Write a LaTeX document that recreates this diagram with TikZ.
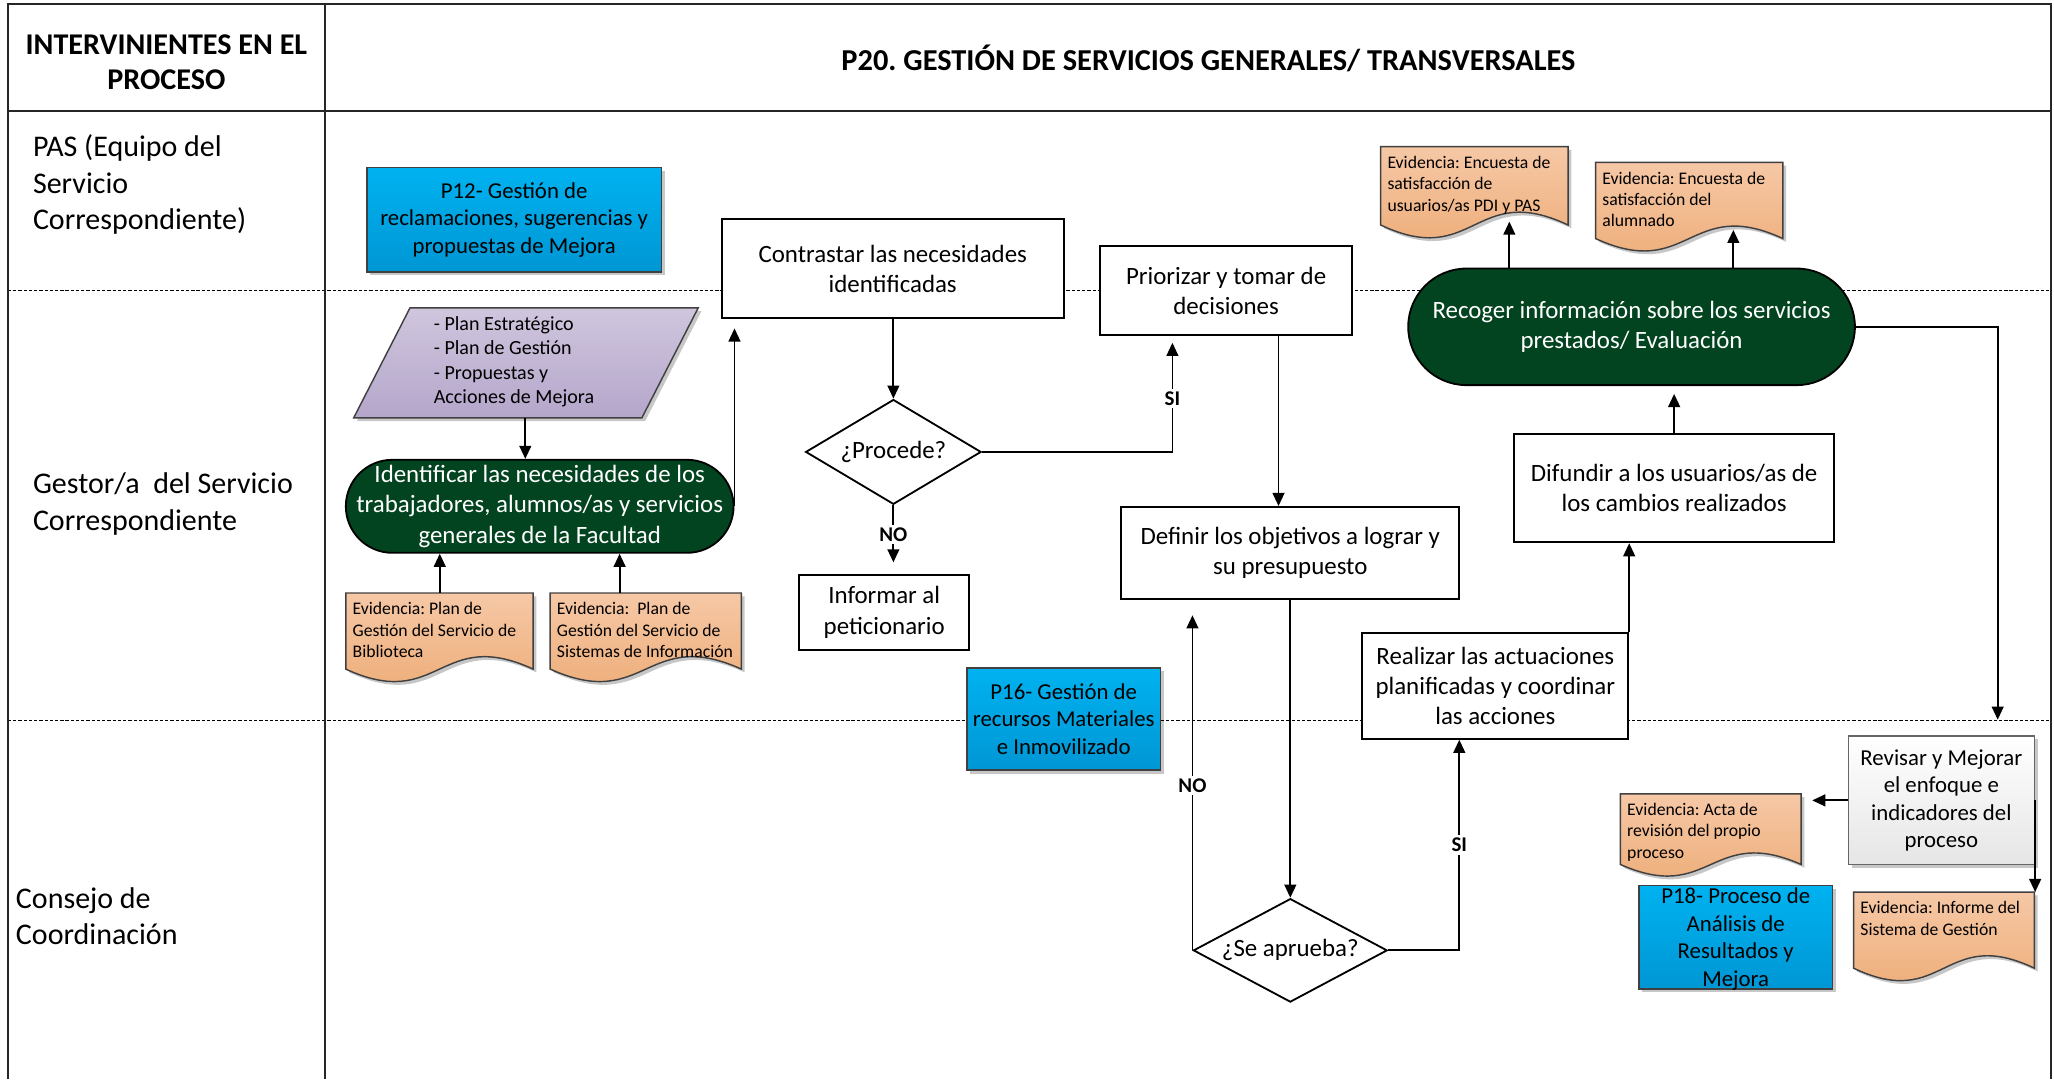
\documentclass[tikz,border=0pt]{standalone}
\usepackage{fontspec}
\setmainfont{Carlito}
\usetikzlibrary{arrows.meta,shapes.geometric,shadows,calc}

\definecolor{bluetop}{RGB}{0,178,240}
\definecolor{bluebot}{RGB}{0,150,212}
\definecolor{lilatop}{RGB}{208,198,222}
\definecolor{lilabot}{RGB}{180,166,202}
\definecolor{orgtop}{RGB}{246,200,166}
\definecolor{orgbot}{RGB}{236,168,112}
\definecolor{dkgreen}{RGB}{3,68,32}
\definecolor{edge}{RGB}{64,64,64}

\newcommand{\fsz}[2]{\fontsize{#1}{#2}\selectfont}

% evidence document: name, left x, top y, width, depth of wave, text
\newcommand{\evdoc}[6]{%
  \draw[docshape] (#2,#3) -- (#2+#4,#3) -- (#2+#4,#3+0.83*#5)
    .. controls (#2+0.5*#4,#3+0.36*#5) and (#2+0.5*#4,#3+1.3*#5) .. (#2,#3+0.83*#5) -- cycle;
  \node[docframe, minimum width=#4, minimum height=0.83*#5, anchor=north west] (#1) at (#2,#3) {};
  \node[doctext, anchor=north west] (#1-txt) at (#2+5,#3+7) {#6};
}

\begin{document}
\frenchspacing
\begin{tikzpicture}[x=1pt,y=-1pt,
  frameline/.style={line width=1.6pt, draw=black!85},
  lane/.style={line width=1pt, dash pattern=on 2.5pt off 1.5pt},
  shad/.style={drop shadow={shadow xshift=2.5pt, shadow yshift=-2.5pt, fill=black, opacity=0.22}},
  box/.style={rectangle, draw=black, line width=1.4pt, fill=white, align=center, inner sep=0pt, font=\fsz{19}{23}},
  bluebox/.style={rectangle, draw=edge, line width=1.2pt, top color=bluetop, bottom color=bluebot, align=center, inner sep=0pt, font=\fsz{17.4}{21}, shad},
  pill/.style={rectangle, draw=black, line width=1.4pt, fill=dkgreen, text=white, align=center, inner sep=0pt, font=\fsz{19}{23.5}},
  decision/.style={diamond, draw=black, line width=1.4pt, fill=white, inner sep=0pt, font=\fsz{19}{23}},
  docshape/.style={draw=edge, line width=1.1pt, top color=orgtop, bottom color=orgbot, shad},
  docframe/.style={rectangle, draw=none, inner sep=0pt},
  doctext/.style={align=left, inner sep=0pt, font=\fsz{13.5}{16.3}},
  arr/.style={-{Triangle[length=10pt,width=9pt]}, line width=1.4pt},
  lbl/.style={fill=white, inner sep=2pt, font=\bfseries\fsz{16}{19}},
  lanelbl/.style={anchor=west, align=left, inner sep=0pt, font=\fsz{22.9}{28}}
]
\useasboundingbox (0,0) rectangle (1568,824);

% table frame and swimlanes
\draw[lane] (6,222) -- (1566,222);
\draw[lane] (6,550) -- (1566,550);
\draw[frameline] (6,824) -- (6,3) -- (1566,3) -- (1566,824);
\draw[frameline] (6,85) -- (1566,85);
\draw[frameline] (248,3) -- (248,824);

\node[align=center, inner sep=0pt, font=\bfseries\fsz{23}{27}] (hdrL) at (127,47.5) {INTERVINIENTES EN EL\\PROCESO};
\node[inner sep=0pt, font=\bfseries\fsz{23.2}{27}] (title) at (922.5,44.5) {P20. GESTIÓN DE SERVICIOS GENERALES/ TRANSVERSALES};

\node[lanelbl] (lpas) at (25,141) {PAS (Equipo del\\Servicio\\Correspondiente)};
\node[lanelbl] (lgest) at (25,384.5) {Gestor/a\ \ del Servicio\\Correspondiente};
\node[lanelbl] (lcons) at (12,699.5) {Consejo de\\Coordinación};

% related processes
\node[bluebox, minimum width=225, minimum height=79.5] (p12) at (392.5,167.75) {P12- Gestión de\\reclamaciones, sugerencias y\\propuestas de Mejora};
\node[bluebox, minimum width=148, minimum height=78] (p16) at (812,549) {P16- Gestión de\\recursos Materiales\\e Inmovilizado};
\node[bluebox, minimum width=148, minimum height=79] (p18) at (1325,715.5) {};
\node[align=center, inner sep=0pt, font=\fsz{17.4}{21}] (p18txt) at (1325,717) {P18- Proceso de\\Análisis de\\Resultados y\\Mejora};

% input data
\draw[draw=edge, line width=1.1pt, top color=lilatop, bottom color=lilabot, shad] (313,235) -- (533,235) -- (490,319) -- (270,319) -- cycle;
\node[anchor=west, align=left, inner sep=0pt, font=\fsz{15.3}{18.7}] (plans) at (331,276) {- Plan Estratégico\\- Plan de Gestión\\- Propuestas y\\Acciones de Mejora};
\coordinate (plansb) at (401,319);

% process steps
\node[pill, rounded corners=35.5pt, minimum width=296, minimum height=71] (ident) at (412,386.5) {Identificar las necesidades de los\\trabajadores, alumnos/as y servicios\\generales de la Facultad};
\node[box, minimum width=261, minimum height=76] (contr) at (681.5,205) {Contrastar las necesidades\\identificadas};
\node[decision, aspect=1.7, minimum width=134, minimum height=80] (proc) at (682,345) {¿Procede?};
\node[box, minimum width=130, minimum height=57] (inform) at (675,467.5) {Informar al\\peticionario};
\node[box, minimum width=192, minimum height=68] (prio) at (936,222) {Priorizar y tomar de\\decisiones};
\node[box, minimum width=258, minimum height=70] (defin) at (985,422) {Definir los objetivos a lograr y\\su presupuesto};
\node[decision, aspect=1.87, minimum width=148, minimum height=79] (aprob) at (985,725.5) {¿Se aprueba?};
\node[box, minimum width=203, minimum height=81] (realiz) at (1141.5,523.5) {Realizar las actuaciones\\planificadas y coordinar\\las acciones};
\node[box, minimum width=244, minimum height=83] (difund) at (1278,372.5) {Difundir a los usuarios/as de\\los cambios realizados};
\node[pill, rounded corners=44.5pt, minimum width=341, minimum height=89, font=\fsz{19}{23}] (recog) at (1245.5,249.5) {Recoger información sobre los servicios\\prestados/ Evaluación};
\node[rectangle, draw=black!60, line width=1.2pt, top color=white, bottom color=black!10, shad, minimum width=142, minimum height=98, align=center, inner sep=0pt, font=\fsz{17.4}{21}] (revis) at (1482,611) {Revisar y Mejorar\\el enfoque e\\indicadores del\\proceso};

% evidences
\evdoc{d1}{264}{452.7}{143}{70}{Evidencia: Plan de\\Gestión del Servicio de\\Biblioteca}
\evdoc{d2}{420}{452.7}{146}{70}{Evidencia:\ \ Plan de\\Gestión del Servicio de\\Sistemas de Información}
\evdoc{d3}{1054}{112}{143}{72}{Evidencia: Encuesta de\\satisfacción de\\usuarios/as PDI y PAS}
\evdoc{d4}{1218}{124}{143}{70}{Evidencia: Encuesta de\\satisfacción del\\alumnado}
\evdoc{d5}{1237}{606}{138}{65}{Evidencia: Acta de\\revisión del propio\\proceso}
\evdoc{d6}{1415}{681}{138}{70}{Evidencia: Informe del\\Sistema de Gestión}

% connectors
\draw[arr] (plansb) -- (plansb |- ident.north);
\draw[arr] (d1.north) -- (d1.north |- ident.south);
\draw[arr] ($(d2.north west)+(53,0)$) coordinate (d2a) -- (d2a |- ident.south);
\draw[arr, shorten >=7pt] (ident.east) -- (ident.east |- contr.south);
\draw[arr] (contr.south -| proc.north) -- (proc.north);
\draw[arr, shorten >=9pt] (proc.south) -- node[lbl, pos=0.43] {NO} (proc.south |- inform.north);
\draw[arr, shorten >=5pt] (proc.east) -| node[lbl, pos=0.73] {SI} ([xshift=-41pt]prio.south);
\draw[arr] ($(prio.south)+(40,0)$) coordinate (pd) -- (pd |- defin.north);
\draw[arr] (defin.south) -- (aprob.north);
\draw[arr, shorten >=12pt] (aprob.west) -- node[lbl, pos=0.47] {NO} (aprob.west |- defin.south);
\draw[arr] (aprob.east) -| node[lbl, pos=0.75] {SI} ([xshift=-27.5pt]realiz.south);
\draw[arr] (realiz.north east) -- (realiz.north east |- difund.south);
\draw[arr, shorten >=6pt] (difund.north) -- (difund.north |- recog.south);
\path ($(d3.south)+(26.5,-3)$) coordinate (d3a);
\path ($(d4.south)+(33.5,-7)$) coordinate (d4a);
\draw[arr] (d3a |- recog.north) -- (d3a);
\draw[arr] (d4a |- recog.north) -- (d4a);
\draw[arr, shorten >=12pt] (recog.east) -| ([xshift=43pt]revis.north);
\draw[arr, shorten >=8pt] (revis.west) -- (revis.west -| d5.east);
\draw[arr] (revis.east) -- (revis.east |- d6.north);
\end{tikzpicture}
\end{document}
